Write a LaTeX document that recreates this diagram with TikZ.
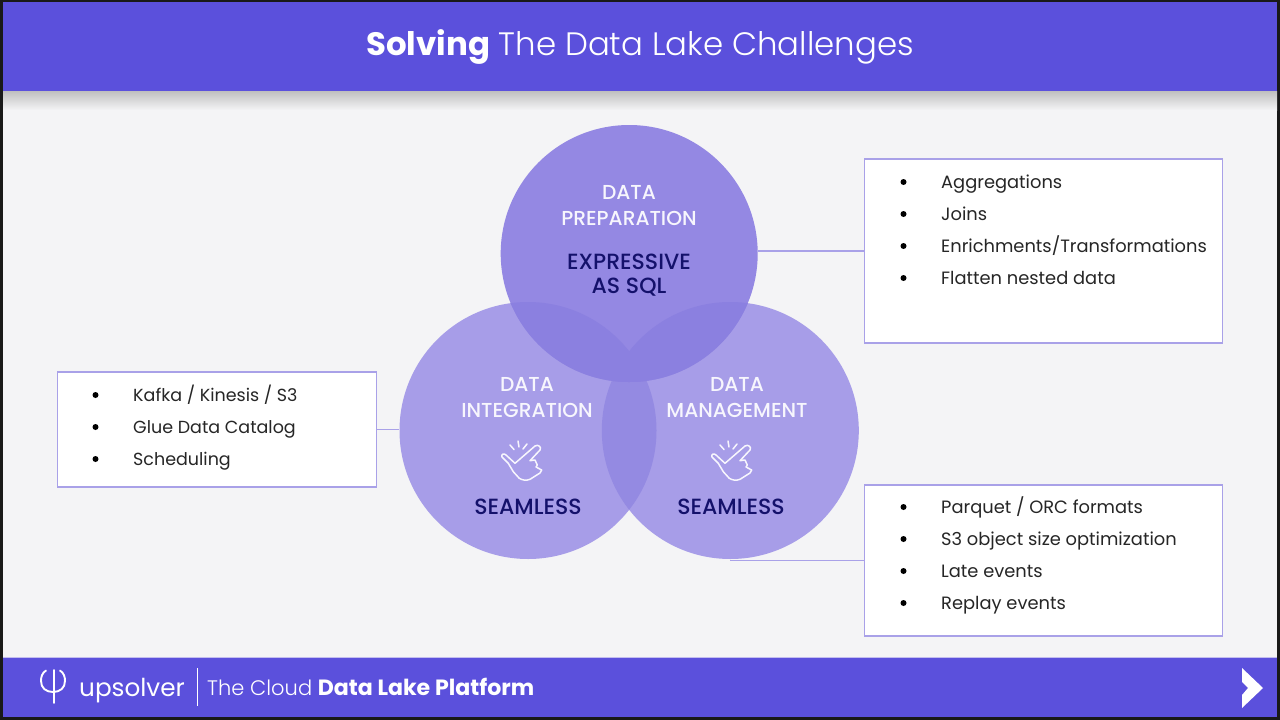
\documentclass[tikz,border=0pt]{standalone}
\usepackage{fontspec}
\setmainfont{Poppins}
\newfontfamily\litefont{Poppins Light}
\newfontfamily\medfont{Poppins Medium}
\definecolor{bandblue}{HTML}{5B50DC}
\definecolor{pagegrey}{HTML}{F4F4F6}
\definecolor{boxline}{HTML}{A9A1E8}
\definecolor{navytext}{HTML}{14116B}
\definecolor{vennlow}{HTML}{A79DE8}
\definecolor{vennlens}{HTML}{948AE2}
\definecolor{venntop}{HTML}{9488E3}
\definecolor{vennmix}{HTML}{8B80E0}
\tikzset{
  venn/.style={circle,minimum size=257pt,inner sep=0pt,fill=#1},
  listbox/.style={draw=boxline,fill=white,line width=1.3pt,inner sep=0pt},
  listtext/.style={anchor=base west,inner sep=0pt,font=\fontsize{17.85}{20}\selectfont,text=black!85},
  listdot/.style={circle,fill=black,minimum size=6pt,inner sep=0pt},
  wirepart/.style={boxline,line width=1.3pt},
  venntitle/.style={anchor=base,inner sep=0pt,font=\medfont\fontsize{20.2}{24}\selectfont,text=white!95!bandblue},
  vennclaim/.style={anchor=base,inner sep=0pt,font=\medfont\fontsize{22}{24}\selectfont,text=navytext},
  snaphand/.pic={
    \draw[white!95!bandblue,line width=1.5pt,line join=round,line cap=round]
      (-19,-8) .. controls (-20,-11) and (-17,-12) .. (-15,-10)
      -- (-6,-1.7) -- (14,-19) .. controls (17,-21) and (21,-18) .. (19,-15)
      -- (9,-4.3) -- (14,-5) -- (16.3,0) -- (15,2) -- (20.7,5) -- (19,8) -- (9,14.3)
      .. controls (5,16) and (1,15) .. (-1.7,13.3) -- (-7.7,6.7) -- (-12.7,-1.7) -- cycle;
    \draw[white!95!bandblue,line width=1.5pt,line cap=round] (-11,-20) -- (-7,-15.5) (-3,-24) -- (-2,-18) (6,-21) -- (2,-16);
  }
}
\begin{document}
\begin{tikzpicture}[x=1pt,y=-1pt]
\useasboundingbox (0,0) rectangle (1280,720);
\fill[black!90] (0,0) rectangle (1280,720);
\fill[pagegrey] (3,91) rectangle (1277,657);
\shade[top color=black!25,bottom color=pagegrey] (3,91) rectangle (1277,110);
\fill[bandblue] (3,2) rectangle (1277,91);
\fill[bandblue] (3,657) rectangle (1277,717);
\draw[boxline!70!white,line width=1pt] (3,657) -- (1277,657);
% header and footer
\node[inner sep=0pt,text=white,font=\fontsize{32.4}{36}\selectfont] (title) at (640,47) {\textbf{Solving} \litefont The Data Lake Challenges};
\draw[white,line width=1.9pt,line cap=round] (46,670.5) .. controls (42,673) and (41,677) .. (41,681) .. controls (41,688) and (46,692) .. (53,692) .. controls (60,692) and (65,688) .. (65,681) .. controls (65,677) and (64,673) .. (60,670.5);
\draw[white,line width=1.9pt,line cap=round] (54,703) -- (54,670);
\node[inner sep=0pt,anchor=base west,text=white,font=\fontsize{24.7}{28}\selectfont] (brand) at (79,696) {upsolver};
\draw[white,line width=1pt] (197,668) -- (197,706);
\node[inner sep=0pt,anchor=base west,text=white,font=\fontsize{21}{24}\selectfont] (slogan) at (207,695) {{\litefont The Cloud} {\fontsize{22.1}{24}\selectfont\textbf{Data Lake Platform}}};
\fill[white] (1242,668) -- (1263,688) -- (1242,708) -- (1242,695) -- (1248,688) -- (1242,682) -- cycle;
% venn circles
\node[venn=vennlow] (integ) at (528,430.5) {};
\node[venn=vennlow] (mgmt) at (730.3,430.5) {};
\begin{scope}
\clip (528,430.5) circle [radius=128.5];
\fill[vennlens] (730.3,430.5) circle [radius=128.5];
\end{scope}
\node[venn=venntop] (prep) at (629.2,253.5) {};
\begin{scope}
\clip (629.2,253.5) circle [radius=128.5];
\fill[vennmix] (528,430.5) circle [radius=128.5];
\fill[vennmix] (730.3,430.5) circle [radius=128.5];
\end{scope}
\node[venntitle] (preptitle) at (629,199) {DATA};
\node[venntitle] (preptitleb) at (629,225) {PREPARATION};
\node[vennclaim] (prepclaim) at (629,269) {EXPRESSIVE};
\node[vennclaim] (prepclaimb) at (629,293) {AS SQL};
\node[venntitle] (integtitle) at (527,391) {DATA};
\node[venntitle] (integtitleb) at (527,417) {INTEGRATION};
\node[vennclaim] (integclaim) at (528,514) {SEAMLESS};
\node[venntitle] (mgmttitle) at (737,391) {DATA};
\node[venntitle] (mgmttitleb) at (737,417) {MANAGEMENT};
\node[vennclaim] (mgmtclaim) at (731,514) {SEAMLESS};
\pic at (521,465) {snaphand};
\pic at (731,465) {snaphand};
% list boxes
\node[listbox,minimum width=358pt,minimum height=184pt] (prepbox) at (1043.7,251) {};
\node[listbox,minimum width=319.5pt,minimum height=115pt] (integbox) at (217,429.5) {};
\node[listbox,minimum width=358pt,minimum height=151pt] (mgmtbox) at (1043.7,560.5) {};
\draw[wirepart] (prepbox.west) -- (prepbox.west -| prep.east);
\draw[wirepart] (integbox.east) -- (integbox.east -| integ.west);
\draw[wirepart] (mgmtbox.west) -- (mgmtbox.west -| mgmt.south);
\foreach \n/\y/\label in {1/182/Aggregations,2/214/Joins,3/246/Enrichments\slash Transformations,4/278/Flatten nested data,5/507/Parquet \slash\ ORC formats,6/539/S3 object size optimization,7/571/Late events,8/603/Replay events}{
  \node[listdot] (rightdot\n) at (903.5,\y) {};
  \node[listtext] (rightitem\n) at (941,\y+6) {\label};
}
\foreach \n/\y/\label in {1/395/Kafka \slash\ Kinesis \slash\ S3,2/427/Glue Data Catalog,3/459/Scheduling}{
  \node[listdot] (leftdot\n) at (95.5,\y) {};
  \node[listtext,font=\fontsize{17.5}{20}\selectfont] (leftitem\n) at (133,\y+6) {\label};
}
\end{tikzpicture}
\end{document}
